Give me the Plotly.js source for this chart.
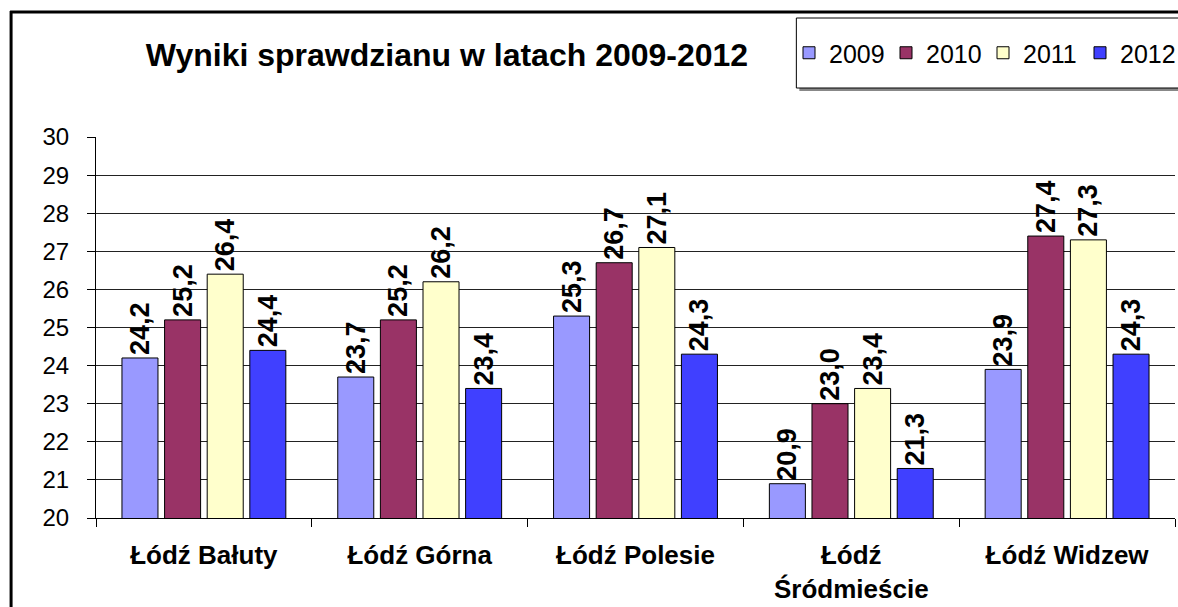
<!DOCTYPE html>
<html><head><meta charset="utf-8">
<script src="https://cdn.plot.ly/plotly-3.0.1.min.js"></script>
<style>html,body{margin:0;padding:0;background:#fff}#chart{width:1178px;height:607px}</style>
</head><body><div id="chart"></div>
<script>
const categories = ["Łódź Bałuty", "Łódź Górna", "Łódź Polesie", "Łódź<br>Śródmieście", "Łódź Widzew"];
const years = ["2009", "2010", "2011", "2012"];
const v2009 = [24.2, 23.7, 25.3, 20.9, 23.9];
const v2010 = [25.2, 25.2, 26.7, 23.0, 27.4];
const v2011 = [26.4, 26.2, 27.1, 23.4, 27.3];
const v2012 = [24.4, 23.4, 24.3, 21.3, 24.3];
const colors = ["#9999FF", "#993366", "#FFFFCC", "#4040FF"];
const series = [v2009, v2010, v2011, v2012];

const FONT = "Liberation Sans, Arial, sans-serif";
const traces = series.map((vals, i) => ({
  type: "bar",
  name: years[i],
  x: categories,
  y: vals,
  text: vals.map(v => v.toFixed(1).replace(".", ",")),
  textposition: "outside",
  textangle: -90,
  constraintext: "none",
  cliponaxis: false,
  textfont: {family: FONT, size: 27, color: "#000", weight: "bold"},
  marker: {color: colors[i], line: {color: "#000", width: 1}},
  hoverinfo: "x+y+name"
}));

// plot area: left 96, right 1176, top 137, bottom 518
const L = 96, R = 1176, T = 137, B = 518;
const px = x => (x - L) / (R - L);
const py = y => (B - y) / (B - T);

const layout = {
  width: 1178, height: 607,
  margin: {l: L, r: 1178 - R, t: T, b: 607 - B},
  paper_bgcolor: "#fff", plot_bgcolor: "#fff",
  font: {family: FONT, color: "#000"},
  title: {text: "<b>Wyniki sprawdzianu w latach 2009-2012</b>", font: {family: FONT, size: 32, color: "#000"},
          x: 447 / 1178, xanchor: "center", y: 1 - 55 / 607, yanchor: "middle"},
  barmode: "group",
  bargap: 0.21,
  bargroupgap: 0.155,
  showlegend: true,
  legend: {orientation: "h", x: px(1177), xanchor: "right", y: py(53), yanchor: "middle",
           font: {family: FONT, size: 25, color: "#000"}, bgcolor: "rgba(0,0,0,0)",
           borderwidth: 0, entrywidth: 52, entrywidthmode: "pixels", itemwidth: 30, traceorder: "normal"},
  xaxis: {type: "category", showline: true, linecolor: "#000", linewidth: 1,
          ticks: "outside", ticklen: 8, tickcolor: "#000", tickson: "boundaries", ticklabelstandoff: 14,
          tickfont: {family: FONT, size: 26, color: "#000", weight: "bold"}, showgrid: false, fixedrange: true},
  yaxis: {range: [20, 30], dtick: 1, showline: true, linecolor: "#000", linewidth: 1,
          ticks: "outside", ticklen: 8, tickcolor: "#000", ticklabelstandoff: 13,
          showgrid: true, gridcolor: "#222", gridwidth: 1, zeroline: false,
          tickfont: {family: FONT, size: 24, color: "#000"}, fixedrange: true},
  shapes: [
    {type: "line", xref: "paper", yref: "paper", x0: px(11), x1: px(11), y0: py(11), y1: py(620), line: {color: "#000", width: 3}},
    {type: "line", xref: "paper", yref: "paper", x0: px(10), x1: px(1190), y0: py(12), y1: py(12), line: {color: "#000", width: 3}},
    {type: "rect", xref: "paper", yref: "paper", x0: px(800), x1: px(1200), y0: py(21), y1: py(91), fillcolor: "#888", line: {width: 0}, layer: "below"},
    {type: "rect", xref: "paper", yref: "paper", x0: px(797), x1: px(1200), y0: py(18), y1: py(88), fillcolor: "#fff", line: {color: "#000", width: 1}, layer: "below"}
  ]
};

Plotly.newPlot("chart", traces, layout, {displayModeBar: false, staticPlot: true});
</script></body></html>
